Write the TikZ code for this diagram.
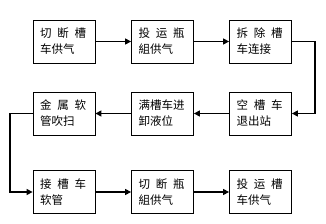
\documentclass[tikz,border=0pt]{standalone}
\usepackage{fontspec}
\setmainfont{Noto Sans CJK SC}
\usetikzlibrary{arrows.meta}
\newcommand{\jthree}[3]{\leavevmode\hbox to 46pt{#1\hfill #2\hfill #3}}
\tikzset{
  stepbox/.style={draw=black, line width=0.8pt, minimum width=62pt, minimum height=43pt, inner sep=0pt, font=\fontsize{11.5pt}{16pt}\selectfont},
  flow/.style={line width=1.3pt, -{Triangle[length=6pt,width=6pt]}},
}
\begin{document}
\begin{tikzpicture}[x=1pt,y=1pt]
\useasboundingbox (0,0) rectangle (326,224);
\node[stepbox] (a1) at (64,182.5) {\parbox{48pt}{\jthree{切}{断}{槽}\\车供气}};
\node[stepbox] (a2) at (162.5,182.5) {\parbox{48pt}{\jthree{投}{运}{瓶}\\組供气}};
\node[stepbox] (a3) at (260.5,182.5) {\parbox{48pt}{\jthree{拆}{除}{槽}\\车连接}};
\node[stepbox] (b1) at (64,110.5) {\parbox{48pt}{\jthree{金}{属}{软}\\管吹扫}};
\node[stepbox] (b2) at (162.5,110.5) {\parbox{48pt}{满槽车进\\卸液位}};
\node[stepbox] (b3) at (260.5,110.5) {\parbox{48pt}{\jthree{空}{槽}{车}\\退出站}};
\node[stepbox] (c1) at (64,32) {\parbox{48pt}{\jthree{接}{槽}{车}\\软管}};
\node[stepbox] (c2) at (162.5,32) {\parbox{48pt}{\jthree{切}{断}{瓶}\\組供气}};
\node[stepbox] (c3) at (260.5,32) {\parbox{48pt}{\jthree{投}{运}{槽}\\车供气}};
\coordinate (r1) at (315,182.5);
\coordinate (r2) at (315,110.5);
\coordinate (l1) at (10,110.5);
\coordinate (l2) at (10,32);
\draw[flow] (a1) -- (a2);
\draw[flow] (a2) -- (a3);
\draw[flow] (a3.east) -- (r1) -- (r2) -- (b3.east);
\draw[flow] (b3) -- (b2);
\draw[flow] (b2) -- (b1);
\draw[flow] (b1.west) -- (l1) -- (l2) -- (c1.west);
\draw[flow] (c1) -- (c2);
\draw[flow] (c2) -- (c3);
\end{tikzpicture}
\end{document}
